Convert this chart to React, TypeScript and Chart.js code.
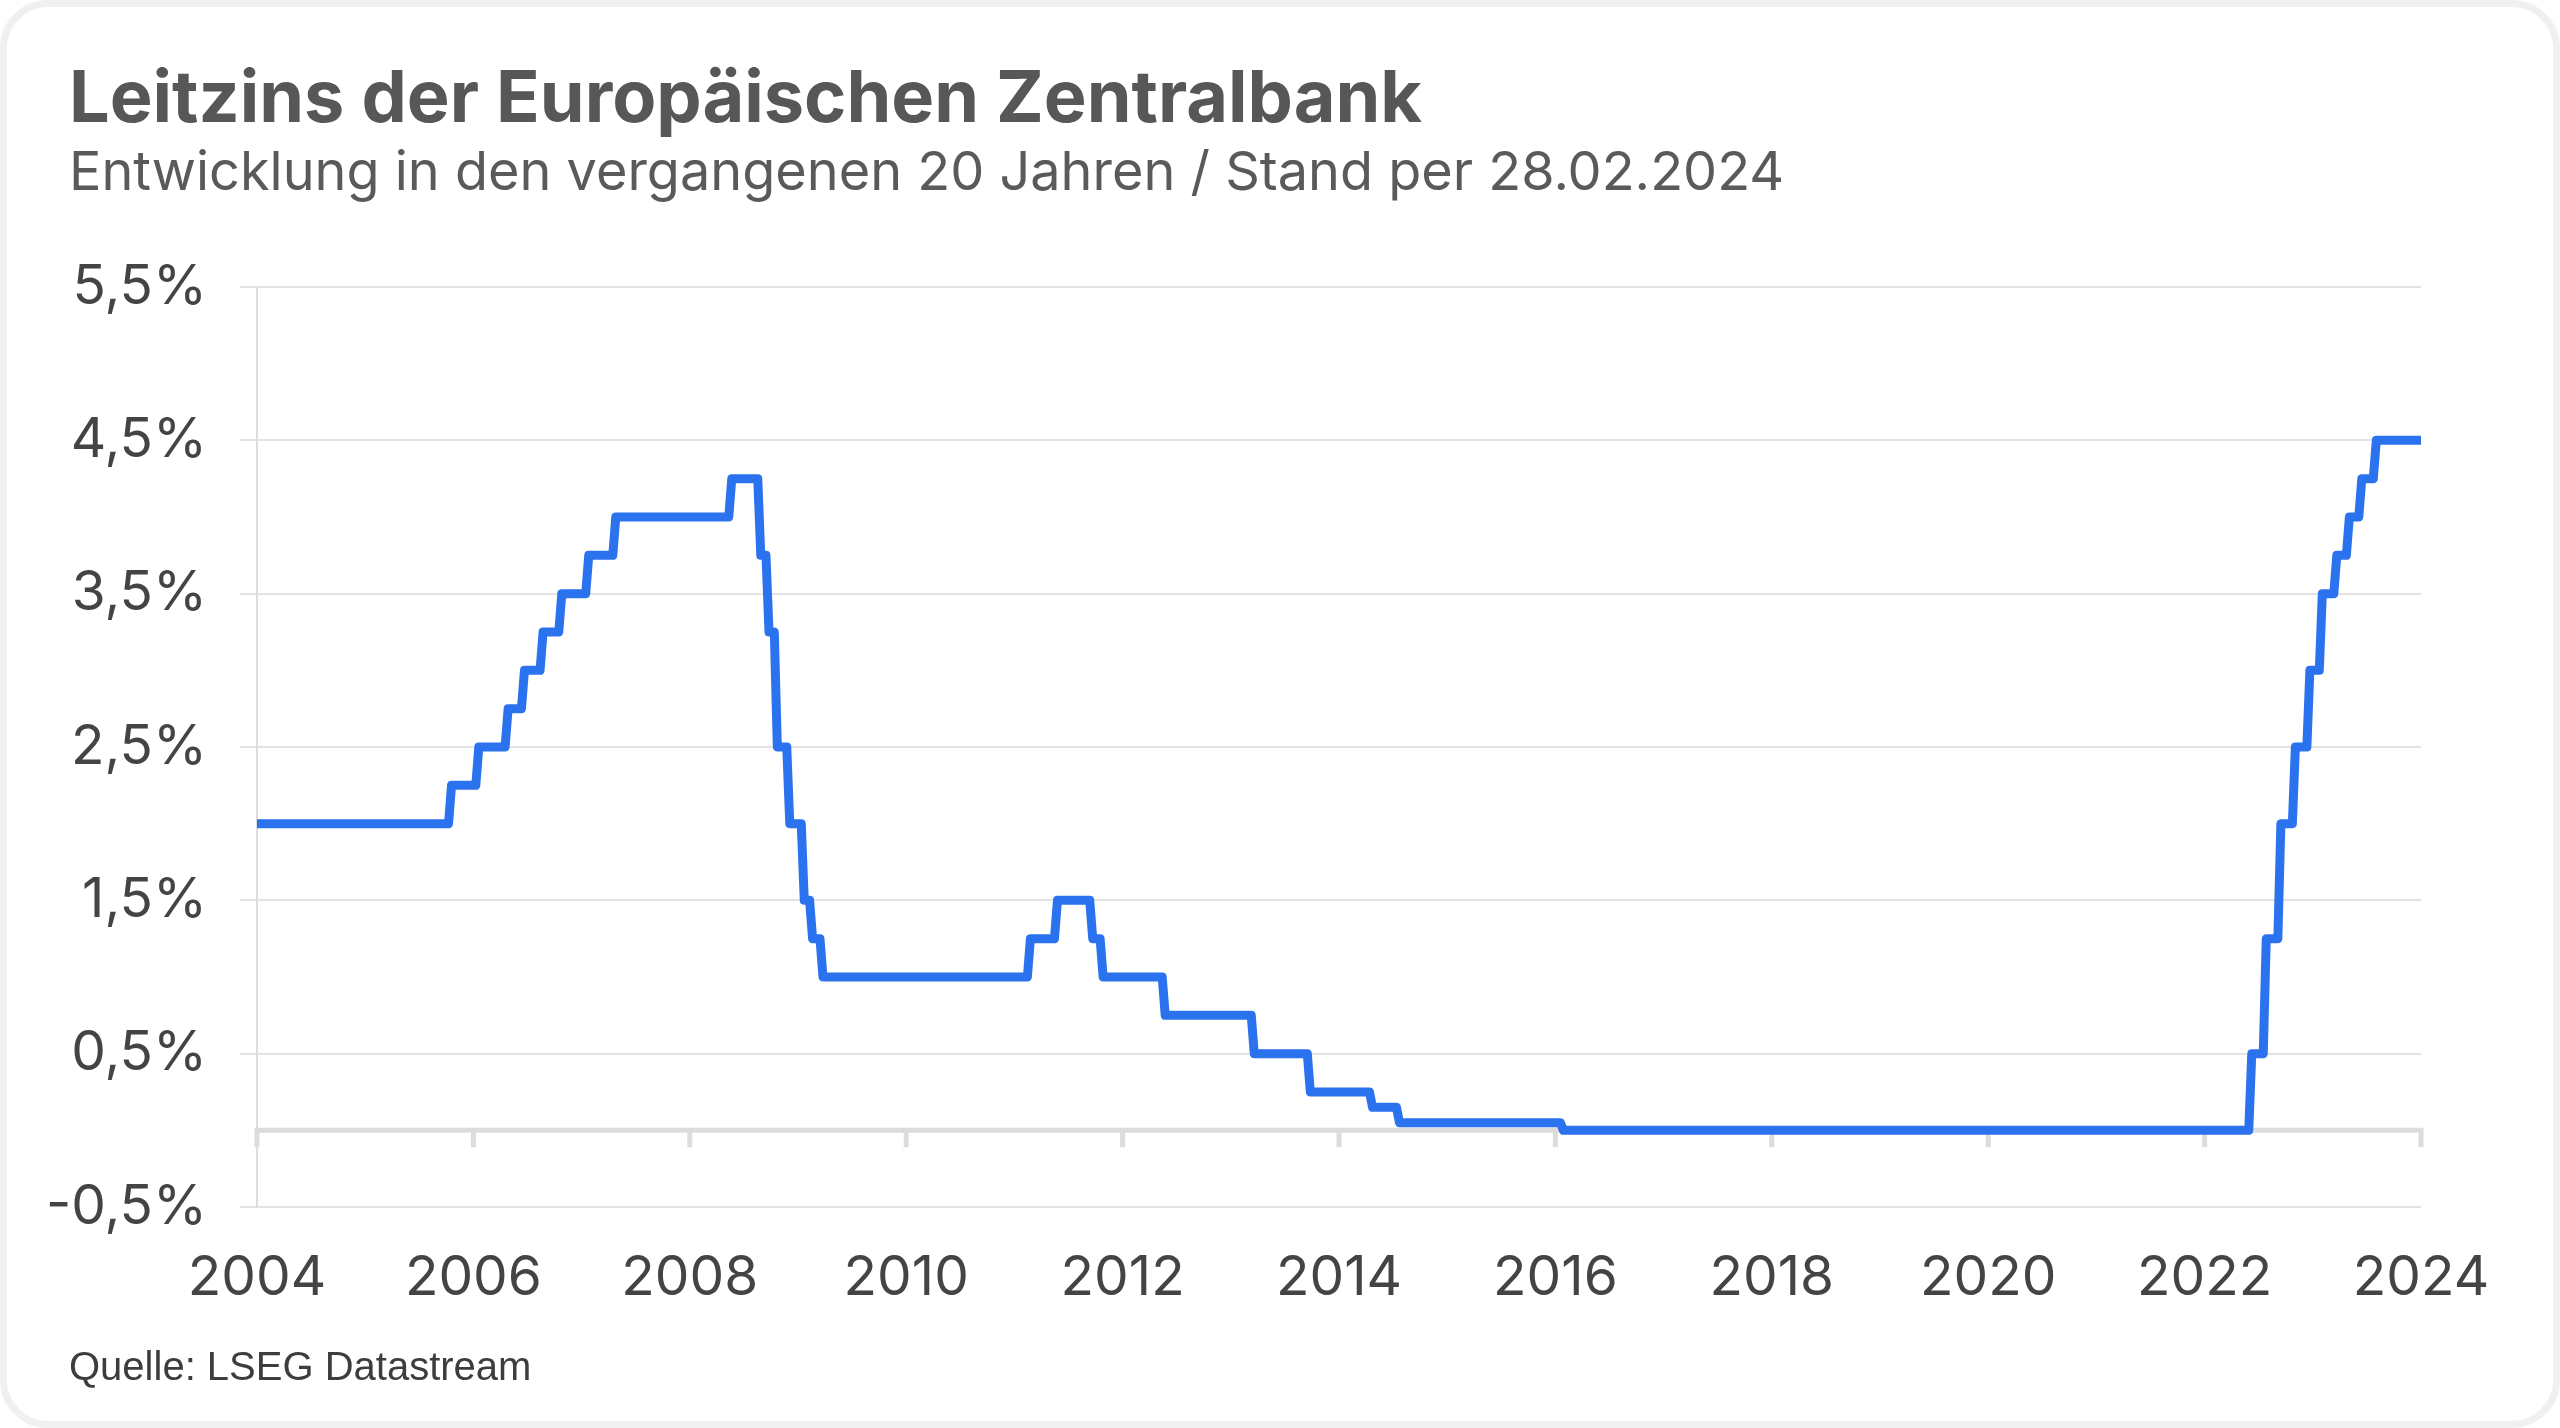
import React, { useEffect, useRef } from 'react';
import { Chart, registerables } from 'chart.js';

Chart.register(...registerables);

// ---- Data: ECB main refinancing rate (%) ----
// Position (in axis years) of every rate change, and the new rate after it.
const startYear = 2004;
const endYear = 2024;
const startRate = 2.0;
const changeYears = [
  2005.784, 2006.036, 2006.307, 2006.458, 2006.63, 2006.803, 2007.052, 2007.302,
  2008.374, 2008.642, 2008.718, 2008.795, 2008.91, 2009.044, 2009.121, 2009.217,
  2011.134, 2011.384, 2011.71, 2011.806, 2012.38, 2013.203, 2013.721, 2014.296,
  2014.545, 2016.06, 2022.422, 2022.556, 2022.691, 2022.825, 2022.959, 2023.074,
  2023.208, 2023.324, 2023.439, 2023.573,
];
const changeRates = [
  2.25, 2.5, 2.75, 3.0, 3.25, 3.5, 3.75, 4.0,
  4.25, 3.75, 3.25, 2.5, 2.0, 1.5, 1.25, 1.0,
  1.25, 1.5, 1.25, 1.0, 0.75, 0.5, 0.25, 0.15,
  0.05, 0.0, 0.5, 1.25, 2.0, 2.5, 3.0, 3.5,
  3.75, 4.0, 4.25, 4.5,
];

const xTickYears = [2004, 2006, 2008, 2010, 2012, 2014, 2016, 2018, 2020, 2022, 2024];
const yTickValues = [-0.5, 0.5, 1.5, 2.5, 3.5, 4.5, 5.5];

const TITLE = 'Leitzins der Europäischen Zentralbank';
const SUBTITLE = 'Entwicklung in den vergangenen 20 Jahren / Stand per 28.02.2024';
const SOURCE = 'Quelle: LSEG Datastream';

const W = 2560;
const H = 1428;
const TRANSITION = 0.028; // years taken by each change in the source data sampling

const zeroAxisPlugin = {
  id: 'zeroAxis',
  beforeDatasetsDraw(chart: any) {
    const { ctx, scales } = chart;
    const x = scales.x;
    const y = scales.y;
    const y0 = y.getPixelForValue(0);
    ctx.save();
    ctx.strokeStyle = '#dcdcdc';
    ctx.lineWidth = 5;
    ctx.lineCap = 'butt';
    ctx.beginPath();
    ctx.moveTo(x.left, y0);
    ctx.lineTo(x.right + 2.5, y0);
    x.ticks.forEach((t: any) => {
      const px = x.getPixelForValue(t.value);
      ctx.moveTo(px, y0 - 2.5);
      ctx.lineTo(px, y0 + 17);
    });
    ctx.stroke();
    ctx.restore();
  },
};

function buildPoints() {
  const pts: { x: number; y: number }[] = [{ x: startYear, y: startRate }];
  let prev = startRate;
  changeYears.forEach((cy, i) => {
    pts.push({ x: cy - TRANSITION / 2, y: prev });
    pts.push({ x: cy + TRANSITION / 2, y: changeRates[i] });
    prev = changeRates[i];
  });
  pts.push({ x: endYear, y: prev });
  return pts;
}

export default function App() {
  const canvasRef = useRef<HTMLCanvasElement | null>(null);

  useEffect(() => {
    if (!canvasRef.current) return;
    const chart = new Chart(canvasRef.current, {
      type: 'line',
      data: {
        datasets: [
          {
            data: buildPoints(),
            borderColor: '#2b73ee',
            borderWidth: 9,
            pointRadius: 0,
            tension: 0,
            fill: false,
            borderJoinStyle: 'round',
            borderCapStyle: 'round',
          },
        ],
      },
      options: {
        animation: false,
        responsive: false,
        devicePixelRatio: 1,
        layout: { padding: { left: 0, right: W - 2421, top: 287, bottom: 0 } },
        plugins: { legend: { display: false }, tooltip: { enabled: false }, title: { display: false } },
        scales: {
          x: {
            type: 'linear',
            min: startYear,
            max: endYear,
            afterFit: (s: any) => {
              s.height = H - 1207;
            },
            afterBuildTicks: (s: any) => {
              s.ticks = xTickYears.map((v) => ({ value: v }));
            },
            grid: { display: false, drawTicks: false },
            border: { display: false },
            ticks: {
              padding: 38,
              color: '#444444',
              font: { family: 'Inter', size: 55 },
              maxRotation: 0,
              autoSkip: false,
              callback: (v: any) => String(v),
            },
          },
          y: {
            type: 'linear',
            min: yTickValues[0],
            max: yTickValues[yTickValues.length - 1],
            afterFit: (s: any) => {
              s.width = 257;
            },
            afterBuildTicks: (s: any) => {
              s.ticks = yTickValues.map((v) => ({ value: v }));
            },
            grid: { color: '#e3e3e3', lineWidth: 2, tickLength: 17, drawTicks: true },
            border: { display: true, color: '#dddddd', width: 2 },
            ticks: {
              padding: 33,
              color: '#444444',
              font: { family: 'Inter', size: 55 },
              callback: (v: any) => Number(v).toFixed(1).replace('.', ',') + '%',
            },
          },
        },
      } as any,
      plugins: [zeroAxisPlugin],
    });
    return () => chart.destroy();
  }, []);

  return (
    <div
      style={{
        position: 'fixed',
        left: 0,
        top: 0,
        width: W,
        height: H,
        background: '#ffffff',
        overflow: 'hidden',
      }}
    >
      <div
        style={{
          position: 'absolute',
          left: 0,
          top: 0,
          width: W,
          height: H,
          boxSizing: 'border-box',
          border: '7px solid #f0f0f0',
          borderRadius: 48,
        }}
      />
      <canvas ref={canvasRef} width={W} height={H} style={{ position: 'absolute', left: 0, top: 0, width: W, height: H }} />
      <div
        style={{
          position: 'absolute',
          left: 69,
          top: 60,
          fontFamily: 'Inter',
          fontWeight: 700,
          fontSize: 72,
          lineHeight: 1,
          color: '#575757',
          whiteSpace: 'nowrap',
        }}
      >
        {TITLE}
      </div>
      <div
        style={{
          position: 'absolute',
          left: 69,
          top: 144,
          fontFamily: 'Inter',
          fontWeight: 400,
          fontSize: 54,
          lineHeight: 1,
          color: '#5a5a5a',
          whiteSpace: 'nowrap',
        }}
      >
        {SUBTITLE}
      </div>
      <div
        style={{
          position: 'absolute',
          left: 69,
          top: 1346,
          fontFamily: '"Liberation Sans", Arial, sans-serif',
          fontSize: 40,
          lineHeight: 1,
          color: '#3d3d3d',
          whiteSpace: 'nowrap',
        }}
      >
        {SOURCE}
      </div>
    </div>
  );
}
